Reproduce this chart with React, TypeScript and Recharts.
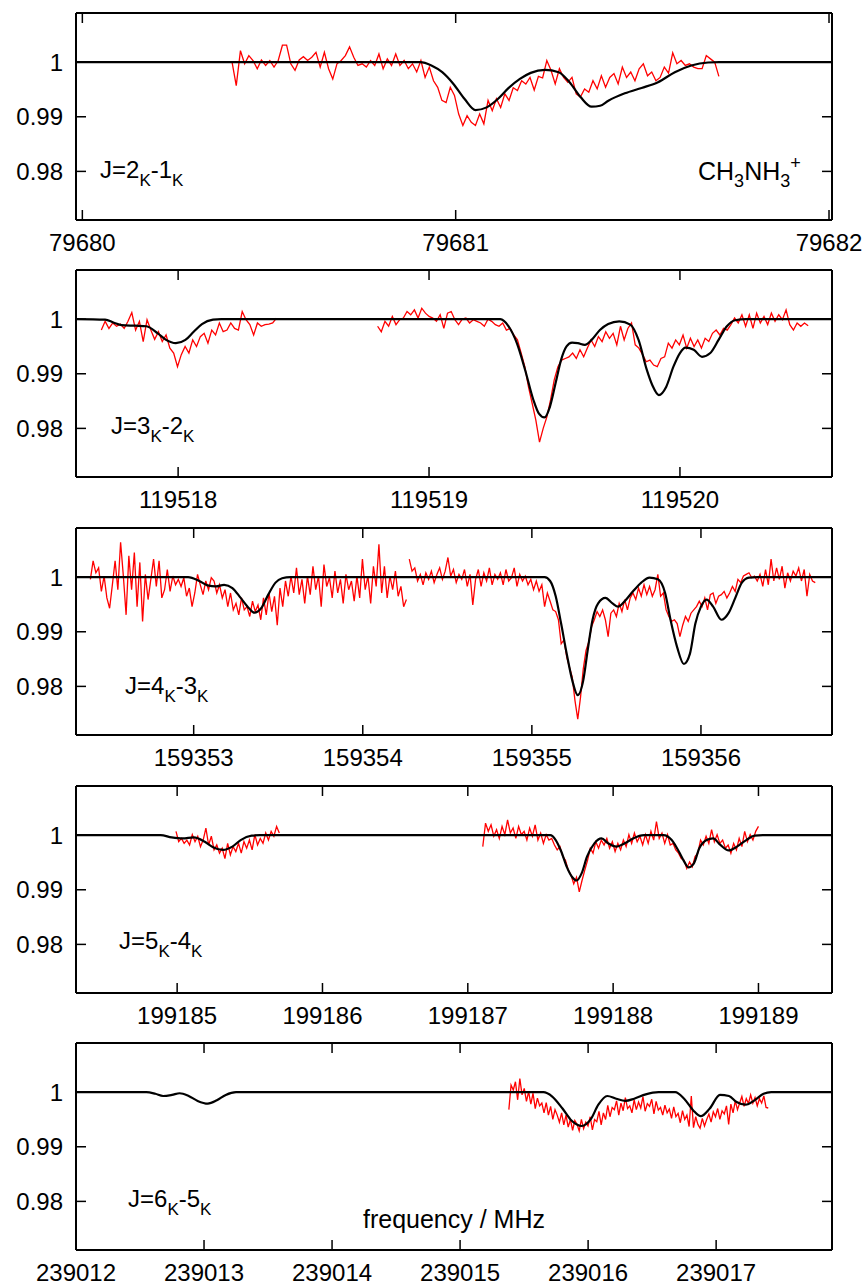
import React from "react";
import { LineChart, Line, XAxis, YAxis } from "recharts";

// shared y scale (normalised intensity)
const Y_DOMAIN: [number, number] = [0.9711, 1.009];
const Y_TICKS = [0.98, 0.99, 1];

// J=2-1
const P1_DOMAIN: [number, number] = [79679.983, 79682.008];
const P1_TICKS = [79680, 79681, 79682];
const P1_OBS_RANGE = [79680.401, 79681.705];
const P1_OBS = [
  1.0, 0.9957, 1.0021, 0.9997, 1.0012, 1.0003, 0.9988, 1.0004, 0.9994, 1.0003, 0.9991, 1.0003, 1.0031, 1.0031, 0.9997,
  0.9985, 1.0004, 1.001, 1.0003, 1.0009, 1.0018, 0.9991, 1.0018, 0.9988, 0.9969, 0.9997, 1.0003, 1.0012, 1.0028, 1.0009,
  0.9994, 0.9997, 0.9991, 1.0003, 0.9994, 1.0015, 0.9988, 1.0006, 0.9994, 1.0015, 0.9994, 1.0003, 0.9988, 0.9997, 0.9982,
  1.0003, 0.9972, 0.9991, 0.9966, 0.9954, 0.993, 0.9926, 0.9954, 0.9939, 0.9905, 0.9884, 0.9902, 0.989, 0.9884, 0.9905,
  0.9887, 0.993, 0.9911, 0.9933, 0.9917, 0.9942, 0.993, 0.9953, 0.9948, 0.9966, 0.996, 0.9972, 0.9949, 0.9974, 0.9971,
  1.0003, 0.9985, 0.996, 0.9988, 0.9972, 0.9963, 0.9972, 0.9942, 0.9936, 0.9951, 0.9945, 0.9966, 0.9951, 0.9975, 0.9954,
  0.9972, 0.9979, 0.996, 0.9991, 0.9972, 0.9982, 0.9966, 0.9988, 0.9997, 0.9975, 0.9982, 0.9966, 0.9972, 0.9991, 0.998,
  1.0017, 0.9997, 1.0003, 0.9994, 0.9997, 0.9991, 0.9988, 0.9988, 1.0012, 1.0006, 1.0, 0.9974,
];
const P1_FIT = [
  [79679.983, 1], [79680.905, 1], [79680.935, 0.99939], [79680.964, 0.99816], [79680.994, 0.99601], [79681.024, 0.99325],
  [79681.053, 0.99123], [79681.083, 0.99172], [79681.113, 0.99325], [79681.142, 0.99528], [79681.172, 0.99693],
  [79681.201, 0.99804], [79681.239, 0.99859], [79681.276, 0.99816], [79681.305, 0.99632], [79681.335, 0.99356],
  [79681.364, 0.99184], [79681.387, 0.99202], [79681.409, 0.99294], [79681.453, 0.99429], [79681.498, 0.99528],
  [79681.542, 0.99632], [79681.587, 0.99816], [79681.631, 0.99939], [79681.676, 0.99994], [79681.705, 1], [79682.008, 1],
];

// J=3-2
const P2_DOMAIN: [number, number] = [119517.593, 119520.606];
const P2_TICKS = [119518, 119519, 119520];
const P2_OBS_A_RANGE = [119517.694, 119518.392];
const P2_OBS_A = [
  0.998, 0.9996, 0.9983, 0.9993, 0.9987, 0.9991, 0.9983, 0.9996, 1.0012, 0.998, 0.9996, 0.9959, 0.9999, 0.998, 0.9963,
  0.9977, 0.9959, 0.9971, 0.9947, 0.9938, 0.9913, 0.9935, 0.995, 0.9938, 0.9962, 0.995, 0.9968, 0.9974, 0.9956, 0.998,
  0.9971, 0.9993, 0.9977, 0.998, 0.9993, 0.9983, 0.998, 1.0014, 0.9999, 0.999, 0.9971, 0.9993, 0.9987, 0.999, 0.9991,
  0.9993, 1.0002,
];
const P2_OBS_B_RANGE = [119518.795, 119520.511];
const P2_OBS_B = [
  0.9987, 0.9977, 0.9996, 0.9987, 1.0005, 0.999, 0.9999, 1.0002, 1.0014, 1.0008, 1.0017, 1.0002, 1.002, 1.0011, 1.0005,
  1.0002, 0.9996, 1.0008, 0.9983, 1.0011, 1.0014, 0.9999, 0.999, 1.0, 1.0002, 0.9993, 0.9999, 0.9996, 0.9993, 0.9987,
  1.0, 0.9996, 0.999, 0.9987, 0.9993, 0.998, 0.9983, 0.9971, 0.9962, 0.9938, 0.9913, 0.9876, 0.9846, 0.9815, 0.9775,
  0.98, 0.9821, 0.9852, 0.9889, 0.9913, 0.9925, 0.9928, 0.9931, 0.9938, 0.9928, 0.9944, 0.9931, 0.9947, 0.9962, 0.995,
  0.9968, 0.9959, 0.9977, 0.9965, 0.9974, 0.9953, 0.9987, 0.9962, 0.9983, 0.9993, 0.9953, 0.9947, 0.9935, 0.9922, 0.9925,
  0.9916, 0.9913, 0.9928, 0.9931, 0.9956, 0.9947, 0.9962, 0.9953, 0.9971, 0.9947, 0.9965, 0.995, 0.9962, 0.9947, 0.9965,
  0.9959, 0.9974, 0.998, 0.9971, 0.9983, 0.998, 0.999, 1.0002, 0.9993, 1.0008, 0.9987, 1.0008, 0.9983, 1.0011, 0.9993,
  1.0005, 0.999, 1.0011, 0.9996, 1.0008, 0.9999, 1.0017, 0.999, 0.998, 0.9993, 0.9987, 0.9993, 0.9988,
];
const P2_FIT = [
  [119517.593, 1], [119517.709, 0.9999], [119517.742, 0.9994], [119517.775, 0.9989], [119517.83, 0.9988],
  [119517.874, 0.9987], [119517.919, 0.9974], [119517.952, 0.9962], [119517.991, 0.9956], [119518.029, 0.9962],
  [119518.062, 0.9977], [119518.095, 0.9991], [119518.139, 0.9999], [119518.172, 1], [119519.284, 1],
  [119519.317, 0.9987], [119519.35, 0.9956], [119519.383, 0.9907], [119519.416, 0.9852], [119519.438, 0.9827],
  [119519.46, 0.982], [119519.482, 0.984], [119519.504, 0.9882], [119519.526, 0.9925], [119519.548, 0.995],
  [119519.57, 0.9957], [119519.593, 0.9956], [119519.621, 0.9953], [119519.648, 0.9962], [119519.681, 0.998],
  [119519.714, 0.9991], [119519.758, 0.9996], [119519.802, 0.999], [119519.835, 0.9962], [119519.868, 0.9907],
  [119519.89, 0.9879], [119519.916, 0.9861], [119519.945, 0.9876], [119519.974, 0.9913], [119520.0, 0.9938],
  [119520.022, 0.9948], [119520.055, 0.9944], [119520.088, 0.9931], [119520.121, 0.9938], [119520.154, 0.9962],
  [119520.187, 0.9987], [119520.22, 0.9998], [119520.264, 1], [119520.606, 1],
];

// J=4-3
const P3_DOMAIN: [number, number] = [159352.304, 159356.775];
const P3_TICKS = [159353, 159354, 159355, 159356];
const P3_OBS_A_RANGE = [159352.389, 159354.258];
const P3_OBS_A = [
  0.9996, 1.003, 1.0008, 1.0017, 0.9974, 1.0002, 0.9962, 0.9943, 0.9986, 1.003, 0.9977, 1.0064, 1.0002, 0.9931, 1.0039,
  0.9977, 1.0045, 0.9946, 1.0027, 0.9919, 1.0005, 0.9959, 0.9996, 1.0033, 0.9983, 1.003, 0.9962, 0.9977, 1.0014, 0.9974,
  1.0002, 0.9986, 0.9996, 0.9983, 0.9999, 0.9965, 0.998, 0.9946, 0.9971, 1.0005, 0.9986, 0.9968, 0.9993, 0.9977, 0.9999,
  0.9993, 0.9971, 0.9986, 0.9962, 0.9977, 0.9946, 0.9971, 0.994, 0.9952, 0.9931, 0.9962, 0.994, 0.9946, 0.9928, 0.9956,
  0.9937, 0.9949, 0.9922, 0.9962, 0.9931, 0.9971, 0.9937, 0.9965, 0.9912, 0.998, 0.9946, 0.9993, 0.9965, 1.0002, 0.9971,
  1.0017, 0.9968, 0.9996, 0.9952, 1.0002, 0.9968, 1.002, 0.9977, 1.0002, 0.9946, 1.0023, 0.9983, 0.9999, 0.9962, 1.0011,
  0.9971, 0.9996, 0.9952, 1.0005, 0.9977, 0.9993, 0.9956, 1.0002, 0.9962, 1.0033, 0.9977, 1.0002, 0.9952, 1.002, 0.9983,
  1.006, 0.9971, 1.002, 0.9962, 1.0002, 0.9977, 1.0011, 0.9965, 0.9983, 0.9946, 0.9959,
];
const P3_OBS_B_RANGE = [159354.275, 159356.676];
const P3_OBS_B = [
  1.0033, 1.0011, 1.0017, 0.9993, 1.0005, 0.9986, 1.0008, 0.9996, 1.0011, 0.999, 1.0005, 1.0017, 0.9996, 1.0011, 1.0036,
  1.0002, 1.0014, 0.999, 1.0005, 0.9996, 1.0014, 0.9983, 1.0005, 0.9949, 0.9996, 1.0014, 0.9983, 1.0008, 0.9993, 1.0017,
  0.9986, 1.0005, 0.9996, 1.0008, 0.9986, 1.0014, 0.9993, 0.9999, 1.0017, 0.9983, 1.0005, 0.9993, 1.0002, 0.9986, 0.9996,
  0.9977, 0.9993, 0.9974, 0.9986, 0.9946, 0.9971, 0.9956, 0.994, 0.9937, 0.9922, 0.9878, 0.9885, 0.9854, 0.9835, 0.9817,
  0.9774, 0.974, 0.978, 0.9832, 0.9866, 0.9882, 0.9909, 0.9922, 0.9937, 0.9928, 0.994, 0.9922, 0.9891, 0.9934, 0.994,
  0.9928, 0.9952, 0.9937, 0.9959, 0.994, 0.9962, 0.9971, 0.9959, 0.998, 0.9965, 0.9986, 0.9968, 0.9983, 0.9965, 0.9977,
  1.0005, 0.9965, 0.9971, 0.994, 0.9928, 0.9919, 0.9922, 0.9915, 0.9891, 0.9912, 0.9928, 0.9919, 0.9934, 0.994, 0.9946,
  0.9956, 0.9946, 0.9962, 0.994, 0.9968, 0.9971, 0.9952, 0.9965, 0.9968, 0.9974, 0.9962, 0.9971, 0.9983, 0.9974, 0.9996,
  0.999, 1.0002, 1.0005, 1.0008, 0.9999, 1.0002, 0.9993, 1.0005, 0.9983, 1.0014, 0.9986, 1.0033, 0.9993, 1.0017, 0.9996,
  1.002, 0.998, 1.0008, 0.9993, 1.0011, 1.0002, 1.0017, 0.9993, 1.0014, 0.9965, 1.0005, 0.9993, 0.999,
];
const P3_FIT = [
  [159352.304, 1], [159352.967, 1], [159353.033, 0.9993], [159353.082, 0.9985], [159353.131, 0.9983],
  [159353.18, 0.9986], [159353.229, 0.998], [159353.278, 0.9962], [159353.327, 0.9943], [159353.359, 0.9935],
  [159353.399, 0.9943], [159353.441, 0.9968], [159353.484, 0.999], [159353.523, 0.9998], [159353.572, 1],
  [159355.075, 1], [159355.108, 0.9993], [159355.141, 0.9965], [159355.173, 0.9915], [159355.206, 0.986],
  [159355.239, 0.9811], [159355.271, 0.9784], [159355.304, 0.9811], [159355.33, 0.9866], [159355.359, 0.9922],
  [159355.392, 0.9952], [159355.435, 0.9962], [159355.477, 0.9952], [159355.51, 0.9946], [159355.549, 0.9956],
  [159355.598, 0.9974], [159355.647, 0.999], [159355.696, 0.9999], [159355.745, 0.9996], [159355.788, 0.9971],
  [159355.82, 0.9922], [159355.859, 0.9872], [159355.899, 0.9841], [159355.935, 0.986], [159355.967, 0.9915],
  [159356.0, 0.9946], [159356.033, 0.9959], [159356.072, 0.9946], [159356.121, 0.9922], [159356.163, 0.9934],
  [159356.203, 0.9962], [159356.242, 0.999], [159356.284, 0.9999], [159356.333, 1], [159356.775, 1],
];

// J=5-4
const P4_DOMAIN: [number, number] = [199184.304, 199189.506];
const P4_TICKS = [199185, 199186, 199187, 199188, 199189];
const P4_OBS_A_RANGE = [199184.992, 199185.703];
const P4_OBS_A = [
  1.0007, 0.9988, 0.9994, 0.9985, 0.9991, 0.9982, 1.0001, 0.9988, 0.9998, 0.9979, 0.9991, 1.0013, 0.9982, 0.9998, 0.9973,
  0.9982, 0.9967, 0.9976, 0.9957, 0.9985, 0.9964, 0.9979, 0.997, 0.9985, 0.9967, 0.9988, 0.9976, 0.9991, 0.9973, 1.0001,
  0.9982, 0.9994, 0.9985, 1.0004, 0.9991, 1.0007, 0.9998, 1.0016, 1.0004,
];
const P4_OBS_B_RANGE = [199187.103, 199189.0];
const P4_OBS_B = [
  0.9979, 1.0022, 1.0007, 1.0019, 0.9998, 1.001, 0.9994, 1.0016, 1.0001, 1.0028, 1.0004, 1.0013, 0.9994, 1.0016, 1.0001,
  1.0007, 0.9991, 1.0013, 0.9998, 1.0019, 0.9991, 1.0004, 0.9985, 1.0001, 0.9991, 0.9994, 0.9982, 0.9973, 0.9979, 0.9961,
  0.9954, 0.9936, 0.9927, 0.9911, 0.9923, 0.9896, 0.9917, 0.9936, 0.9954, 0.9976, 0.9967, 0.9988, 0.9976, 0.9991, 0.9982,
  0.9994, 0.9976, 0.9988, 0.997, 0.9985, 0.9973, 0.9991, 0.9979, 1.0001, 0.9985, 1.0004, 0.9988, 0.9998, 0.9982, 1.0001,
  0.9985, 1.0007, 0.9991, 1.0025, 0.9994, 1.0004, 0.9985, 1.0001, 0.9982, 0.9985, 0.9973, 0.9967, 0.9957, 0.9954, 0.9939,
  0.9951, 0.9942, 0.9961, 0.9967, 0.9991, 0.9982, 0.9998, 0.9985, 1.001, 0.9988, 1.0001, 0.9985, 0.9991, 0.9976, 0.9982,
  0.9967, 0.9985, 0.9973, 0.9994, 0.9979, 1.0007, 0.9988, 1.0001, 0.9991, 1.0007, 1.0016,
];
const P4_FIT = [
  [199184.304, 1], [199184.886, 1], [199184.962, 0.9996], [199185.038, 0.9994], [199185.114, 0.9996],
  [199185.19, 0.9988], [199185.247, 0.9978], [199185.316, 0.9973], [199185.38, 0.9979], [199185.437, 0.9991],
  [199185.513, 0.9999], [199185.57, 1], [199187.567, 1], [199187.605, 0.9991], [199187.643, 0.997],
  [199187.681, 0.9942], [199187.719, 0.9923], [199187.749, 0.9917], [199187.783, 0.993], [199187.821, 0.9961],
  [199187.871, 0.9985], [199187.92, 0.9994], [199187.966, 0.9985], [199188.023, 0.9979], [199188.08, 0.9985],
  [199188.137, 0.9994], [199188.213, 1], [199188.346, 1], [199188.403, 0.9991], [199188.452, 0.997],
  [199188.49, 0.9951], [199188.517, 0.9941], [199188.555, 0.9948], [199188.593, 0.9976], [199188.643, 0.9991],
  [199188.688, 0.9994], [199188.738, 0.9982], [199188.795, 0.9972], [199188.852, 0.9979], [199188.916, 0.9991],
  [199188.973, 0.9999], [199189.03, 1], [199189.506, 1],
];

// J=6-5
const P5_DOMAIN: [number, number] = [239012, 239017.905];
const P5_TICKS = [239012, 239013, 239014, 239015, 239016, 239017];
const P5_OBS_RANGE = [239015.381, 239017.407];
const P5_OBS = [
  0.9968, 1.0013, 1.0004, 1.0019, 0.9986, 1.0025, 0.9995, 1.0007, 0.9983, 1.0001, 0.9978, 0.9998, 0.997, 0.9989, 0.9975,
  0.998, 0.9962, 0.9981, 0.9958, 0.9974, 0.995, 0.9968, 0.9958, 0.9945, 0.9962, 0.994, 0.9958, 0.9936, 0.995, 0.993,
  0.9948, 0.9941, 0.9929, 0.995, 0.9933, 0.9945, 0.9938, 0.9955, 0.9931, 0.995, 0.9946, 0.9965, 0.994, 0.9962, 0.995,
  0.9976, 0.9955, 0.9972, 0.9968, 0.9984, 0.9958, 0.998, 0.9966, 0.999, 0.997, 0.9975, 0.9962, 0.9986, 0.9968, 0.9982,
  0.9971, 0.9992, 0.9965, 0.9979, 0.9974, 0.9987, 0.996, 0.9983, 0.9967, 0.9972, 0.9958, 0.9976, 0.9962, 0.9969, 0.9952,
  0.9973, 0.9955, 0.9961, 0.9944, 0.9966, 0.995, 0.9958, 0.9937, 0.9993, 0.9935, 0.9955, 0.9941, 0.9934, 0.9952, 0.9938,
  0.995, 0.996, 0.9945, 0.9964, 0.9955, 0.997, 0.995, 0.9966, 0.996, 0.9975, 0.9941, 0.9978, 0.9962, 0.9984, 0.9968,
  0.998, 0.9992, 0.9974, 0.9988, 0.9979, 0.9995, 0.998, 0.999, 0.9975, 0.9988, 0.998, 0.9993, 0.9972, 0.9971,
];
const P5_FIT = [
  [239012, 1], [239012.55, 1], [239012.62, 0.9997], [239012.68, 0.9993], [239012.75, 0.9995], [239012.81, 0.9998],
  [239012.88, 0.9993], [239012.95, 0.9984], [239013.03, 0.9979], [239013.1, 0.9985], [239013.17, 0.9995],
  [239013.25, 1], [239015.65, 1], [239015.72, 0.9992], [239015.8, 0.997], [239015.87, 0.9948], [239015.95, 0.9938],
  [239016.02, 0.995], [239016.08, 0.9977], [239016.15, 0.9993], [239016.22, 0.9988], [239016.29, 0.9984],
  [239016.36, 0.9988], [239016.45, 0.9996], [239016.55, 1], [239016.68, 1], [239016.75, 0.9988], [239016.82, 0.9967],
  [239016.88, 0.9956], [239016.95, 0.997], [239017.03, 0.9995], [239017.1, 0.9993], [239017.16, 0.9982],
  [239017.23, 0.9977], [239017.3, 0.9985], [239017.37, 0.9997], [239017.43, 1], [239017.905, 1],
];

// observed channels sit on an even frequency grid between the first and last channel
const spectrum = (range: number[], vals: number[]) =>
  vals.map((v, i) => ({ f: range[0] + (i * (range[1] - range[0])) / (vals.length - 1), v }));
const curve = (pts: number[][]) => pts.map(([f, v]) => ({ f, v }));

const FONT = "'Liberation Sans', Arial, Helvetica, sans-serif";
const AXIS = { stroke: "#000", strokeWidth: 2 };
const TICKLINE = { stroke: "#000", strokeWidth: 1.5 };
const TICKFONT = { fill: "#000", fontSize: 24, fontFamily: FONT };
const blank = () => "";

const PANELS = [
  { top: 0, domain: P1_DOMAIN, ticks: P1_TICKS, obs: [spectrum(P1_OBS_RANGE, P1_OBS)], fit: curve(P1_FIT) },
  {
    top: 257,
    domain: P2_DOMAIN,
    ticks: P2_TICKS,
    obs: [spectrum(P2_OBS_A_RANGE, P2_OBS_A), spectrum(P2_OBS_B_RANGE, P2_OBS_B)],
    fit: curve(P2_FIT),
  },
  {
    top: 515,
    domain: P3_DOMAIN,
    ticks: P3_TICKS,
    obs: [spectrum(P3_OBS_A_RANGE, P3_OBS_A), spectrum(P3_OBS_B_RANGE, P3_OBS_B)],
    fit: curve(P3_FIT),
  },
  {
    top: 773,
    domain: P4_DOMAIN,
    ticks: P4_TICKS,
    obs: [spectrum(P4_OBS_A_RANGE, P4_OBS_A), spectrum(P4_OBS_B_RANGE, P4_OBS_B)],
    fit: curve(P4_FIT),
  },
  { top: 1030, domain: P5_DOMAIN, ticks: P5_TICKS, obs: [spectrum(P5_OBS_RANGE, P5_OBS)], fit: curve(P5_FIT) },
];

function Panel({ top, domain, ticks, obs, fit }: any) {
  return (
    <div style={{ position: "absolute", left: 0, top }}>
      <LineChart width={867} height={257} margin={{ top: 12, right: 34, bottom: 0, left: 0 }}>
        <XAxis
          xAxisId="b"
          dataKey="f"
          type="number"
          domain={domain}
          ticks={ticks}
          interval={0}
          allowDataOverflow
          height={37}
          tickSize={-10}
          tickMargin={24}
          axisLine={AXIS}
          tickLine={TICKLINE}
          tick={TICKFONT}
        />
        <XAxis
          xAxisId="t"
          orientation="top"
          dataKey="f"
          type="number"
          domain={domain}
          ticks={ticks}
          interval={0}
          allowDataOverflow
          height={1}
          tickSize={-10}
          axisLine={AXIS}
          tickLine={TICKLINE}
          tickFormatter={blank}
        />
        <YAxis
          yAxisId="l"
          type="number"
          domain={Y_DOMAIN}
          ticks={Y_TICKS}
          interval={0}
          allowDataOverflow
          width={76}
          tickSize={-10}
          tickMargin={23}
          axisLine={AXIS}
          tickLine={TICKLINE}
          tick={TICKFONT}
        />
        <YAxis
          yAxisId="r"
          orientation="right"
          type="number"
          domain={Y_DOMAIN}
          ticks={Y_TICKS}
          interval={0}
          allowDataOverflow
          width={1}
          tickSize={-10}
          axisLine={AXIS}
          tickLine={TICKLINE}
          tickFormatter={blank}
        />
        {obs.map((seg: any, i: number) => (
          <Line
            key={i}
            xAxisId="b"
            yAxisId="l"
            data={seg}
            dataKey="v"
            type="linear"
            stroke="#ff0000"
            strokeWidth={1.3}
            dot={false}
            isAnimationActive={false}
          />
        ))}
        <Line
          xAxisId="b"
          yAxisId="l"
          data={fit}
          dataKey="v"
          type="monotone"
          stroke="#000"
          strokeWidth={2.2}
          dot={false}
          isAnimationActive={false}
        />
      </LineChart>
    </div>
  );
}

function Transition({ x, y, up, low }: { x: number; y: number; up: string; low: string }) {
  return (
    <text x={x} y={y} fontSize={24} fontFamily={FONT} fill="#000">
      J={up}
      <tspan fontSize={17} dy={8}>K</tspan>
      <tspan dy={-8}>-{low}</tspan>
      <tspan fontSize={17} dy={8}>K</tspan>
    </text>
  );
}

export default function App() {
  return (
    <div style={{ position: "absolute", left: 0, top: 0, width: 867, height: 1287, background: "#fff" }}>
      {PANELS.map((p, i) => (
        <Panel key={i} {...p} />
      ))}
      <svg width={867} height={1287} style={{ position: "absolute", left: 0, top: 0, pointerEvents: "none" }}>
        <Transition x={100} y={178} up="2" low="1" />
        <Transition x={111} y={434} up="3" low="2" />
        <Transition x={125} y={694} up="4" low="3" />
        <Transition x={119} y={949} up="5" low="4" />
        <Transition x={128} y={1207} up="6" low="5" />
        <text x={698} y={180} fontSize={25} fontFamily={FONT} fill="#000">
          CH
          <tspan fontSize={18} dy={7}>3</tspan>
          <tspan dy={-7}>NH</tspan>
          <tspan fontSize={18} dy={7}>3</tspan>
          <tspan fontSize={18} dy={-18}>+</tspan>
        </text>
        <text x={454} y={1228} textAnchor="middle" fontSize={25} fontFamily={FONT} fill="#000">
          frequency / MHz
        </text>
      </svg>
    </div>
  );
}
